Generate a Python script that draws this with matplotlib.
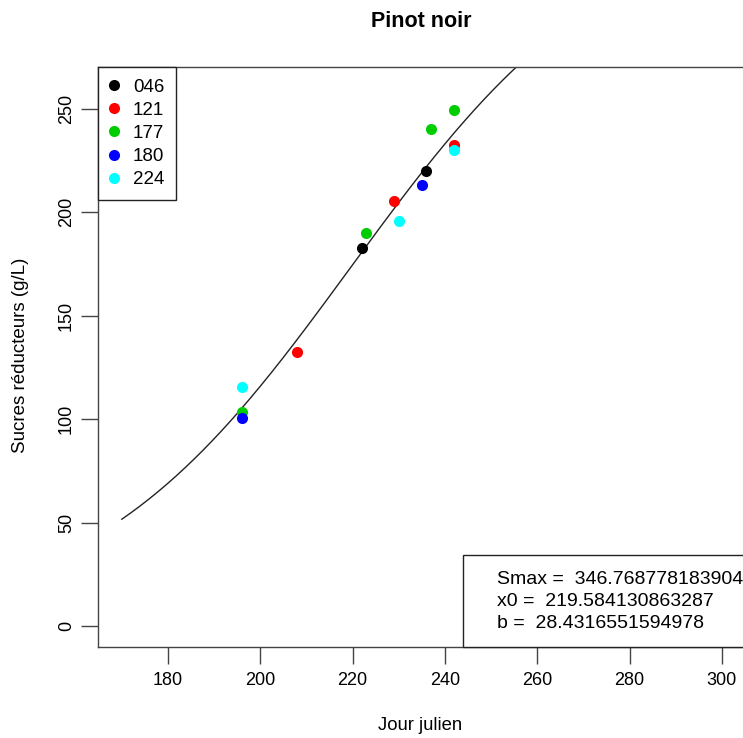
import numpy as np
import matplotlib
matplotlib.use("Agg")
import matplotlib.pyplot as plt
from matplotlib.patches import Rectangle

plt.rcParams['font.family'] = ['Liberation Sans', 'DejaVu Sans']

# Data
series_names = ["046", "121", "177", "180", "224"]
series_colors = ["#000000", "#ff0000", "#00cd00", "#0000ff", "#00ffff"]
x_046 = [222, 236]
y_046 = [183, 220]
x_121 = [208, 229, 242]
y_121 = [132.5, 205.5, 232.5]
x_177 = [196, 223, 237, 242]
y_177 = [103.5, 190, 240.5, 249.5]
x_180 = [196, 235]
y_180 = [100.5, 213]
x_224 = [196, 230, 242]
y_224 = [115.5, 196, 230]
xs = [x_046, x_121, x_177, x_180, x_224]
ys = [y_046, y_121, y_177, y_180, y_224]

Smax = 346.768778183904
x0 = 219.584130863287
b = 28.4316551594978

xticks = [180, 200, 220, 240, 260, 280, 300]
yticks = [0, 50, 100, 150, 200, 250]

W, H = 743, 738
fig = plt.figure(figsize=(W / 100, H / 100), dpi=100)
L, R, T, B = 98, 745, 67, 647
ax = fig.add_axes([L / W, 1 - B / H, (R - L) / W, (B - T) / H])

xlim = (180 - 70 / 4.615, 180 + (R - 168) / 4.615)
ax.set_xlim(*xlim)
ax.set_ylim(-10.2, 270.3)

xc = np.linspace(170, 300, 400)
yc = Smax / (1 + np.exp(-(xc - x0) / b))
ax.plot(xc, yc, color="#222222", lw=1.0)

for name, c, xv, yv in zip(series_names, series_colors, xs, ys):
    ax.plot(xv, yv, 'o', color=c, markersize=8, markeredgewidth=0, label=name, linestyle='none')

axis_col = "#444444"
for s in ax.spines.values():
    s.set_color(axis_col)
    s.set_linewidth(1.0)
ax.spines['right'].set_visible(False)

ax.set_xticks(xticks)
ax.set_yticks(yticks)
ax.set_yticklabels([str(v) for v in yticks], rotation=90, va='center')
ax.tick_params(axis='both', direction='out', length=12, width=1.0, color=axis_col,
               labelsize=13)
ax.tick_params(axis='x', pad=6)
ax.tick_params(axis='y', pad=4.5)

ax.set_title("Pinot noir", fontsize=15.5, fontweight='bold', y=(B - 21) / (B - T), va='center', pad=0)
ax.set_xlabel("Jour julien", fontsize=13.3, va='center')
ax.xaxis.set_label_coords(0.5 - (R - 743) / (2 * (R - L)), (B - 725) / (B - T))
ax.set_ylabel("Sucres réducteurs (g/L)", fontsize=13.5, va='center')
ax.yaxis.set_label_coords((21 - L) / (R - L), (B - 355) / (B - T))

leg = ax.legend(loc='upper left', borderaxespad=0, fancybox=False, edgecolor="#222222",
                fontsize=13.5, handlelength=0.5, handletextpad=0.75, labelspacing=0.32,
                borderpad=0.62, framealpha=1)
leg.get_frame().set_linewidth(1.0)

# Parameter box
bx0 = (463 - L) / (R - L)
bh = (B - 555) / (B - T)
ax.add_patch(Rectangle((bx0, 0), 1.0, bh, transform=ax.transAxes, fill=True,
                       facecolor='white', edgecolor="#222222", lw=1.0, clip_on=False, zorder=5))
tx = (497 - L) / (R - L)
lines = [f"Smax =  {Smax}", f"x0 =  {x0}", f"b =  {b}"]
for i, (line, py) in enumerate(zip(lines, [579, 601, 624])):
    ax.text(tx, (B - py) / (B - T), line, transform=ax.transAxes, fontsize=14,
            va='center', ha='left', zorder=6)

fig.savefig("out.png", dpi=100)
